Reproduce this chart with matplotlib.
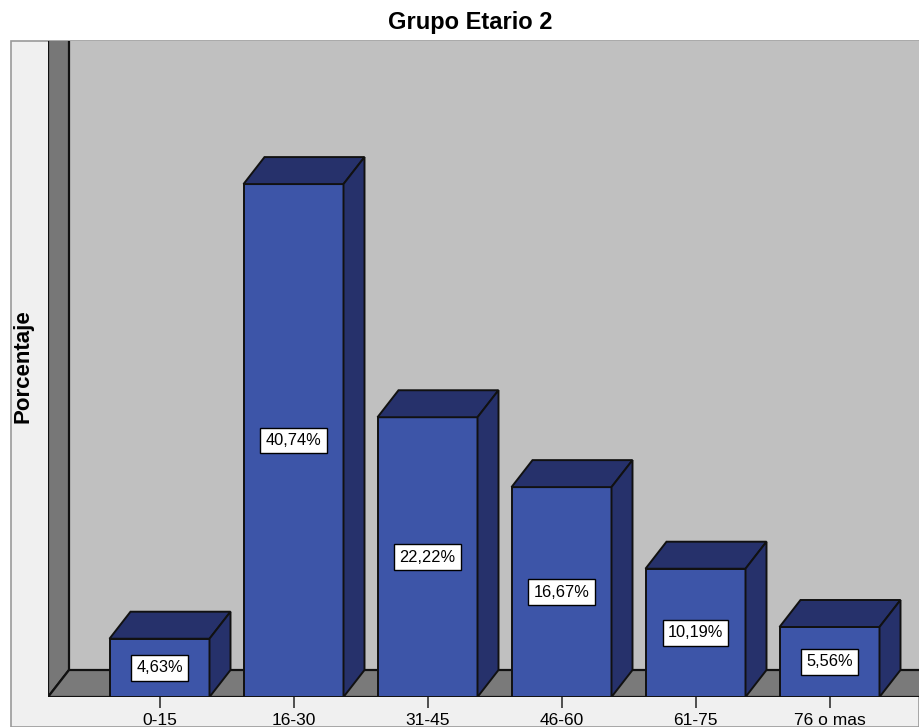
import matplotlib
matplotlib.use("Agg")
import matplotlib.pyplot as plt
from matplotlib.patches import Polygon, Rectangle

# Age-group distribution
categories = ["0-15", "16-30", "31-45", "46-60", "61-75", "76 o mas"]
percentages = [4.63, 40.74, 22.22, 16.67, 10.19, 5.56]
title = "Grupo Etario 2"
ylabel = "Porcentaje"

plt.rcParams["font.family"] = ["Liberation Sans", "DejaVu Sans"]

W, H = 919, 727
fig = plt.figure(figsize=(W / 100, H / 100), dpi=100)
fig.patch.set_facecolor("white")

px = lambda x: x / W
py = lambda y: 1 - y / H

# Outer light panel (left strip + strip below the floor)
fig.patches.append(Rectangle((px(10.5), 0), px(W) - px(10.5), py(41) - 0,
                             transform=fig.transFigure, facecolor="#f0f0f0",
                             edgecolor="#9a9a9a", linewidth=1.2, zorder=-5))

# Front plane of the 3-D chart
left_px, right_px, top_px, base_px = 48, 919, 41, 697
ax = fig.add_axes([px(left_px), py(base_px), px(right_px) - px(left_px),
                   py(top_px) - py(base_px)])
ax.set_zorder(2)
ax.set_facecolor("#c0c0c0")
for s in ax.spines.values():
    s.set_visible(False)

cat_px = 134.0           # pixels per category
x0_center = 159.5        # pixel position of the first category
xmin = (left_px - x0_center) / cat_px
xmax = (right_px - x0_center) / cat_px
pct_px = 12.59           # pixels per percent
ymax = (base_px - top_px) / pct_px
ax.set_xlim(xmin, xmax)
ax.set_ylim(0, ymax)

dx = 21 / cat_px         # depth offset along x
dy = 27 / pct_px         # depth offset along y

edge = "#111111"
# Left side wall
ax.add_patch(Polygon([(xmin, 0), (xmin + dx, dy), (xmin + dx, ymax + 5),
                      (xmin, ymax + 5)], closed=True, facecolor="#777777",
                     edgecolor=edge, linewidth=1.6, zorder=1))
# Floor
ax.add_patch(Polygon([(xmin, 0), (xmax + 1, 0), (xmax + 1 + dx, dy),
                      (xmin + dx, dy)], closed=True, facecolor="#7a7a7a",
                     edgecolor=edge, linewidth=1.6, zorder=1))

xs = list(range(len(categories)))
w = 100 / cat_px
front = "#3d55a8"
dark = "#26316b"
ax.bar(xs, percentages, width=w, color=front, edgecolor=edge, linewidth=1.4,
       zorder=3)
for x, v in zip(xs, percentages):
    l, r = x - w / 2, x + w / 2
    ax.add_patch(Polygon([(l, v), (r, v), (r + dx, v + dy), (l + dx, v + dy)],
                         closed=True, facecolor=dark, edgecolor=edge,
                         linewidth=1.4, zorder=3))
    ax.add_patch(Polygon([(r, 0), (r + dx, dy), (r + dx, v + dy), (r, v)],
                         closed=True, facecolor=dark, edgecolor=edge,
                         linewidth=1.4, zorder=3))
    label = f"{v:.2f}".replace(".", ",") + "%"
    ax.text(x, v / 2, label, ha="center", va="center", fontsize=11.8,
            color="black", zorder=5,
            bbox=dict(boxstyle="square,pad=0.32", facecolor="white",
                      edgecolor="black", linewidth=1.0))

ax.set_xticks(xs)
ax.set_xticklabels(categories, fontsize=12.5)
ax.set_yticks([])
ax.tick_params(axis="x", length=7.8, width=1.2, color="#333333", pad=4)

fig.text(px(470), py(22), title, ha="center", va="center", fontsize=17,
         fontweight="bold")
fig.text(px(23), py(366), ylabel, ha="center", va="center", rotation=90,
         fontsize=16, fontweight="bold")

fig.savefig("out.png", dpi=100)
